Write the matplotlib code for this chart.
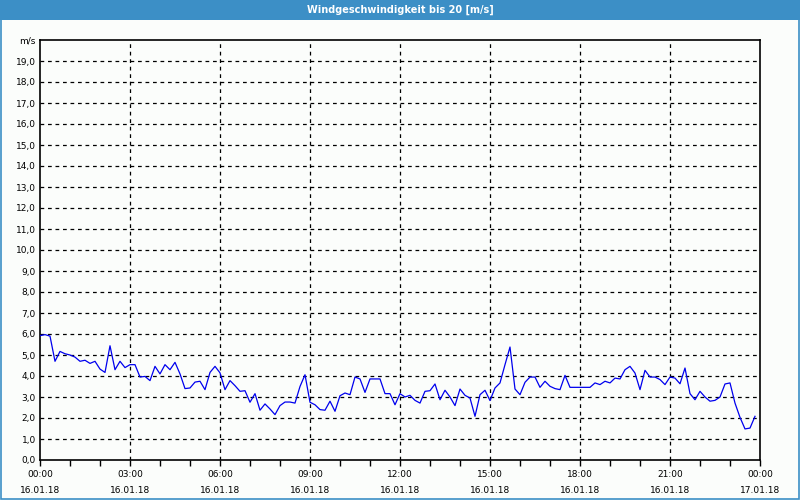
# Windgeschwindigkeit 16.01.18, Werte alle 10 Minuten
import pandas as pd
import matplotlib
matplotlib.use("Agg")
import matplotlib.pyplot as plt
import matplotlib.dates as mdates
from matplotlib.patches import Rectangle

# 00:00 - 05:50
wind_nacht = [5.92, 5.97, 5.9, 4.7, 5.17, 5.06, 5.0, 4.9, 4.7, 4.75, 4.6, 4.7,
              4.33, 4.17, 5.44, 4.3, 4.7, 4.4, 4.54, 4.54, 3.95, 3.98, 3.78, 4.46,
              4.1, 4.54, 4.3, 4.65, 4.1, 3.4, 3.43, 3.71, 3.75, 3.35, 4.17, 4.46]
# 06:00 - 11:50
wind_morgen = [4.15, 3.35, 3.78, 3.54, 3.27, 3.3, 2.75, 3.16, 2.37, 2.67, 2.43, 2.16,
               2.59, 2.76, 2.76, 2.71, 3.5, 4.06, 2.75, 2.63, 2.4, 2.37, 2.8, 2.32,
               3.06, 3.19, 3.11, 3.95, 3.86, 3.22, 3.86, 3.86, 3.86, 3.16, 3.16, 2.63]
# 12:00 - 17:50
wind_mittag = [3.16, 3.0, 3.08, 2.84, 2.71, 3.27, 3.3, 3.62, 2.87, 3.32, 3.0, 2.59,
               3.38, 3.08, 2.95, 2.08, 3.11, 3.32, 2.83, 3.43, 3.67, 4.54, 5.38, 3.38,
               3.11, 3.7, 3.95, 3.95, 3.46, 3.75, 3.51, 3.4, 3.35, 4.03, 3.46, 3.46]
# 18:00 - 23:50
wind_abend = [3.46, 3.46, 3.46, 3.67, 3.59, 3.75, 3.67, 3.9, 3.86, 4.3, 4.46, 4.14,
              3.35, 4.27, 3.95, 3.95, 3.83, 3.59, 3.95, 3.9, 3.63, 4.38, 3.16, 2.87,
              3.27, 3.0, 2.8, 2.84, 3.0, 3.62, 3.67, 2.71, 2.03, 1.48, 1.52, 2.08]

wind = wind_nacht + wind_morgen + wind_mittag + wind_abend
zeit = pd.date_range("2018-01-16 00:00", periods=len(wind), freq="10min")

start = pd.Timestamp("2018-01-16 00:00")
ende = pd.Timestamp("2018-01-17 00:00")
y_ticks = list(range(0, 20))
y_labels = [f"{v},0" for v in y_ticks]

blau = "#3c8fc6"
hintergrund = "#fbfdfb"
schrift = 6.5

fig = plt.figure(figsize=(8, 5), dpi=100, facecolor=hintergrund)

# Titelleiste und Rahmen
fig.patches.append(Rectangle((0, 1 - 20 / 500), 1, 20 / 500, transform=fig.transFigure,
                             facecolor=blau, edgecolor="none", zorder=0))
fig.patches.append(Rectangle((0.6 / 800, 0.6 / 500), 1 - 1.2 / 800, 1 - 1.2 / 500,
                             transform=fig.transFigure, facecolor="none",
                             edgecolor=blau, linewidth=1.2, zorder=1))
fig.text(0.5, 1 - 10 / 500, "Windgeschwindigkeit bis 20 [m/s]", color="white",
         fontsize=7, fontweight="bold", ha="center", va="center")

ax = fig.add_axes([40 / 800, 40 / 500, 720 / 800, 420 / 500])
ax.set_facecolor(hintergrund)
ax.plot(zeit, wind, color="#0000ee", linewidth=0.9, zorder=3)

ax.set_xlim(start, ende)
ax.set_ylim(0, 20)

# Gitter
for v in range(1, 20):
    ax.axhline(v, color="black", linestyle=(0, (3, 3)), linewidth=0.9, zorder=1)
for h in range(3, 24, 3):
    ax.axvline(start + pd.Timedelta(hours=h), color="black", linestyle=(0, (3, 3)),
               linewidth=0.9, zorder=1)

for s in ax.spines.values():
    s.set_linewidth(1.2)
    s.set_color("black")

ax.set_yticks(y_ticks + [20])
ax.set_yticklabels(y_labels + ["m/s"], fontsize=schrift)
ax.tick_params(axis="y", length=0, pad=3)

x_ticks = pd.date_range(start, ende, freq="3h")
ax.set_xticks(x_ticks)
ax.set_xticklabels([t.strftime("%H:%M") + "\n" + t.strftime("%d.%m.%y") for t in x_ticks],
                   fontsize=schrift, linespacing=2.0)
ax.xaxis.set_minor_locator(mdates.HourLocator())
ax.tick_params(axis="x", which="both", length=4, width=1, direction="out", pad=3)

fig.savefig("out.png", dpi=100, facecolor=hintergrund)
